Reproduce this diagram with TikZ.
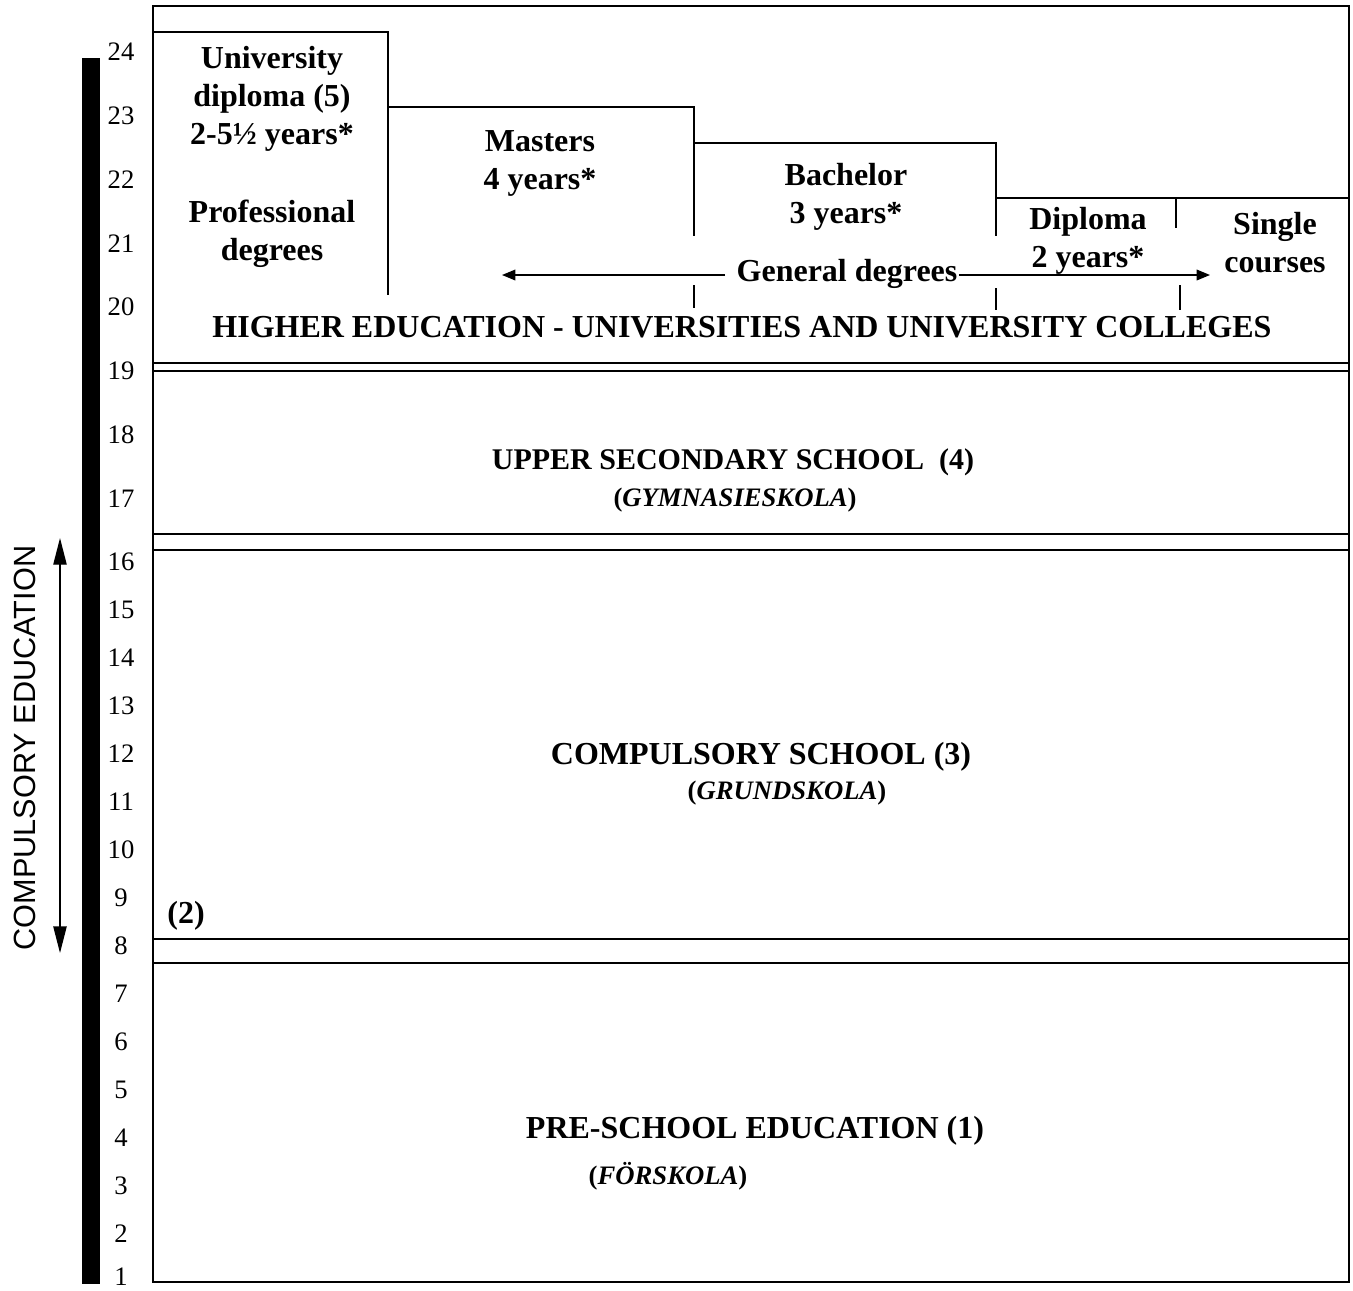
\documentclass[tikz,border=0pt]{standalone}
\usepackage{fontspec}
\setmainfont{Liberation Serif}
\newfontfamily\arialfont{Liberation Sans}
\usetikzlibrary{positioning,arrows.meta}

\tikzset{
  frame/.style={line width=1.5pt},
  lbl/.style={font=\fontsize{24}{28.5}\selectfont\bfseries, align=center, inner sep=1pt},
  sublbl/.style={font=\fontsize{20}{24}\selectfont\bfseries, inner sep=1pt},
  agenum/.style={font=\fontsize{20}{24}\selectfont, inner sep=0pt},
  arr/.style={line width=1pt, -{Triangle[length=10pt,width=8pt]}},
  dblarr/.style={line width=1pt, {Triangle[length=20pt,width=10pt]}-{Triangle[length=20pt,width=10pt]}}
}

\begin{document}
\begin{tikzpicture}[x=0.75pt,y=-0.75pt]
    \useasboundingbox (0,0) rectangle (1353,1290);

    % outer frame and bands
    \draw[frame] (153,6) rectangle (1349,1282);
    \draw[frame] (153,363) -- (1349,363);
    \draw[frame] (153,371) -- (1349,371);
    \draw[frame] (153,534) -- (1349,534);
    \draw[frame] (153,550) -- (1349,550);
    \draw[frame] (153,939) -- (1349,939);
    \draw[frame] (153,963) -- (1349,963);

    % higher education steps
    \draw[frame] (153,32) -- (388,32) -- (388,295);
    \draw[frame] (388,107) -- (694,107) -- (694,236);
    \draw[frame] (694,143) -- (996,143) -- (996,236);
    \draw[frame] (996,198) -- (1349,198);
    \draw[frame] (694,285) -- (694,308);
    \draw[frame] (996,288) -- (996,310);
    \draw[frame] (1176,198) -- (1176,228);
    \draw[frame] (1180,285) -- (1180,310);

    % age scale
    \fill (82,58) rectangle (100,1284);
    \foreach \n in {16,...,24}
        \node[agenum] (age\n) at (121,{52+(24-\n)*63.75}) {\n};
    \foreach \n in {2,...,15}
        \node[agenum] (age\n) at (121,{562+(16-\n)*48}) {\n};
    \node[agenum] (age1) at (121,1277) {1};

    % labels
    \node[lbl] (univ) at (272,99) {University\\diploma (5)\\2-5\textonehalf{} years*};
    \node[lbl] (prof) at (272,234) {Professional\\degrees};
    \node[lbl] (masters) at (540,163) {Masters\\4 years*};
    \node[lbl] (bachelor) at (846,197) {Bachelor\\3 years*};
    \node[lbl] (diploma) at (1088,241) {Diploma\\2 years*};
    \node[lbl] (single) at (1275,243) {Single\\courses};
    \node[lbl] (general) at (847,274) {General degrees};
    \node[lbl] (higher) at (742,327) {HIGHER EDUCATION - UNIVERSITIES AND UNIVERSITY COLLEGES};
    \node[lbl, font=\fontsize{22.5}{27}\selectfont\bfseries] (upper) at (733,462) {UPPER SECONDARY SCHOOL\ \ (4)};
    \node[sublbl] (upperSw) at (735,500) {(\textit{GYMNASIESKOLA})};
    \node[lbl] (compul) at (761,757) {COMPULSORY SCHOOL (3)};
    \node[sublbl] (compulSw) at (787,793) {(\textit{GRUNDSKOLA})};
    \node[lbl] (two) at (186,916) {(2)};
    \node[lbl] (pre) at (755,1131) {PRE-SCHOOL EDUCATION (1)};
    \node[sublbl] (preSw) at (668,1176) {(\textit{FÖRSKOLA})};

    % general degrees arrows
    \coordinate (gdL) at (502,275);
    \coordinate (gdR) at (1210,275);
    \draw[arr] (general.west |- gdL) ++(-10,0) coordinate (gdLs) -- (gdL);
    \draw[arr] (general.east |- gdR) coordinate (gdRs) -- (gdR);

    % compulsory education
    \coordinate (ceTop) at (60,538);
    \coordinate (ceBot) at (60,953);
    \draw[dblarr] (ceTop) -- (ceBot);
    \node[font=\arialfont\fontsize{23}{27}\selectfont, rotate=90, inner sep=0pt] (compEd) at (25,748) {COMPULSORY EDUCATION};
\end{tikzpicture}
\end{document}
